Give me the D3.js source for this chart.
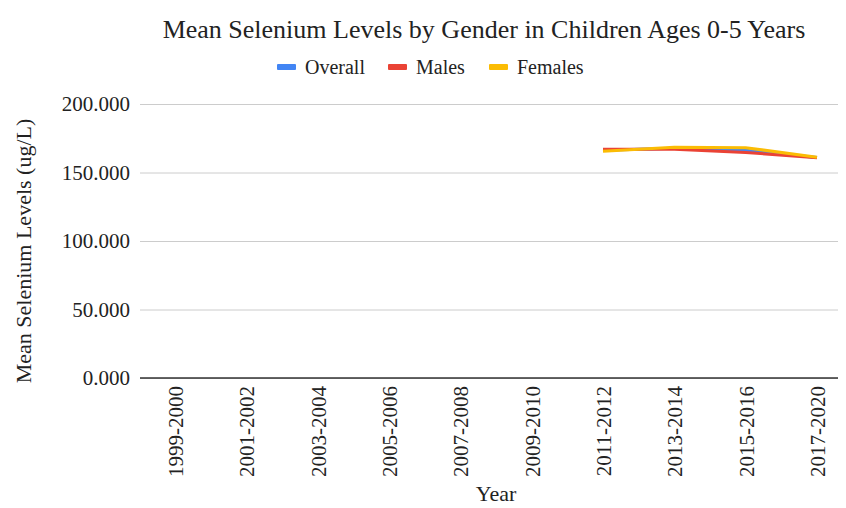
<!DOCTYPE html>
<html>
<head>
<meta charset="utf-8">
<script src="https://cdn.jsdelivr.net/npm/d3@7"></script>
<style>
  html, body { margin: 0; padding: 0; background: #fff; }
  svg text { font-family: "Liberation Serif", "Times New Roman", serif; fill: #222; }
</style>
</head>
<body>
<svg id="chart" width="846" height="508"></svg>
<script>
// Survey periods and mean selenium levels (ug/L) for children ages 0-5
const periods = ["1999-2000", "2001-2002", "2003-2004", "2005-2006", "2007-2008",
                 "2009-2010", "2011-2012", "2013-2014", "2015-2016", "2017-2020"];
const overall = [null, null, null, null, null, null, 166.2, 167.7, 166.2, 161.0];
const males   = [null, null, null, null, null, null, 166.9, 167.0, 164.6, 160.8];
const females = [null, null, null, null, null, null, 165.5, 168.4, 168.1, 161.2];
const yTicks = [0, 50, 100, 150, 200];

const seriesList = [
  { name: "Overall", values: overall, color: "#4285F4" },
  { name: "Males",   values: males,   color: "#EA4335" },
  { name: "Females", values: females, color: "#FBBC04" }
];

const serif = "'Liberation Serif', 'Times New Roman', serif";
const svg = d3.select("#chart");
const plot = { left: 140, right: 838, top: 104, bottom: 378 };

const x = d3.scalePoint().domain(periods).range([175, 817]);
const y = d3.scaleLinear().domain([0, 200]).range([plot.bottom, plot.top]);

// Title
svg.append("text")
  .attr("x", 484).attr("y", 38)
  .attr("text-anchor", "middle")
  .style("font-size", "26px")
  .text("Mean Selenium Levels by Gender in Children Ages 0-5 Years");

// Legend
const legendX = [277, 388, 489];
const legend = svg.append("g");
seriesList.forEach((s, i) => {
  const g = legend.append("g").attr("transform", `translate(${legendX[i]},67)`);
  g.append("rect").attr("x", 0).attr("y", -3).attr("width", 19).attr("height", 6)
    .attr("rx", 1).attr("fill", s.color);
  g.append("text").attr("x", 28).attr("y", 7).style("font-size", "20px").text(s.name);
});

// Horizontal gridlines and y tick labels
const yAxis = d3.axisLeft(y).tickValues(yTicks).tickFormat(d3.format(".3f"))
  .tickSize(-(plot.right - plot.left)).tickPadding(10);
const gy = svg.append("g").attr("transform", `translate(${plot.left},0)`).call(yAxis);
gy.select(".domain").remove();
gy.selectAll(".tick line").attr("stroke", "#cccccc").attr("stroke-width", 1);
gy.selectAll(".tick text").style("font-size", "21px")
  .style("font-family", serif).attr("fill", "#222");

// Baseline
svg.append("line")
  .attr("x1", plot.left).attr("x2", plot.right)
  .attr("y1", y(0)).attr("y2", y(0))
  .attr("stroke", "#333").attr("stroke-width", 1.3);

// X axis labels (rotated)
const xAxis = d3.axisBottom(x).tickSize(0).tickPadding(0);
const gx = svg.append("g").attr("transform", `translate(0,${plot.bottom})`).call(xAxis);
gx.select(".domain").remove();
gx.selectAll(".tick text")
  .style("font-size", "21px")
  .style("font-family", serif)
  .attr("fill", "#222")
  .attr("text-anchor", "end")
  .attr("dy", "0.35em")
  .attr("transform", "translate(0,8) rotate(-90)")
  .attr("x", 0).attr("y", 0);

// Axis titles
svg.append("text")
  .attr("x", 496).attr("y", 501)
  .attr("text-anchor", "middle")
  .style("font-size", "22px")
  .text("Year");
svg.append("text")
  .attr("transform", "translate(31,251) rotate(-90)")
  .attr("text-anchor", "middle")
  .style("font-size", "22px")
  .text("Mean Selenium Levels (ug/L)");

// Series lines
const line = d3.line()
  .defined(d => d.v != null)
  .x(d => x(d.p))
  .y(d => y(d.v));

seriesList.forEach(s => {
  svg.append("path")
    .datum(periods.map((p, i) => ({ p, v: s.values[i] })))
    .attr("fill", "none")
    .attr("stroke", s.color)
    .attr("stroke-width", 3)
    .attr("stroke-linejoin", "round")
    .attr("d", line);
});
</script>
</body>
</html>
